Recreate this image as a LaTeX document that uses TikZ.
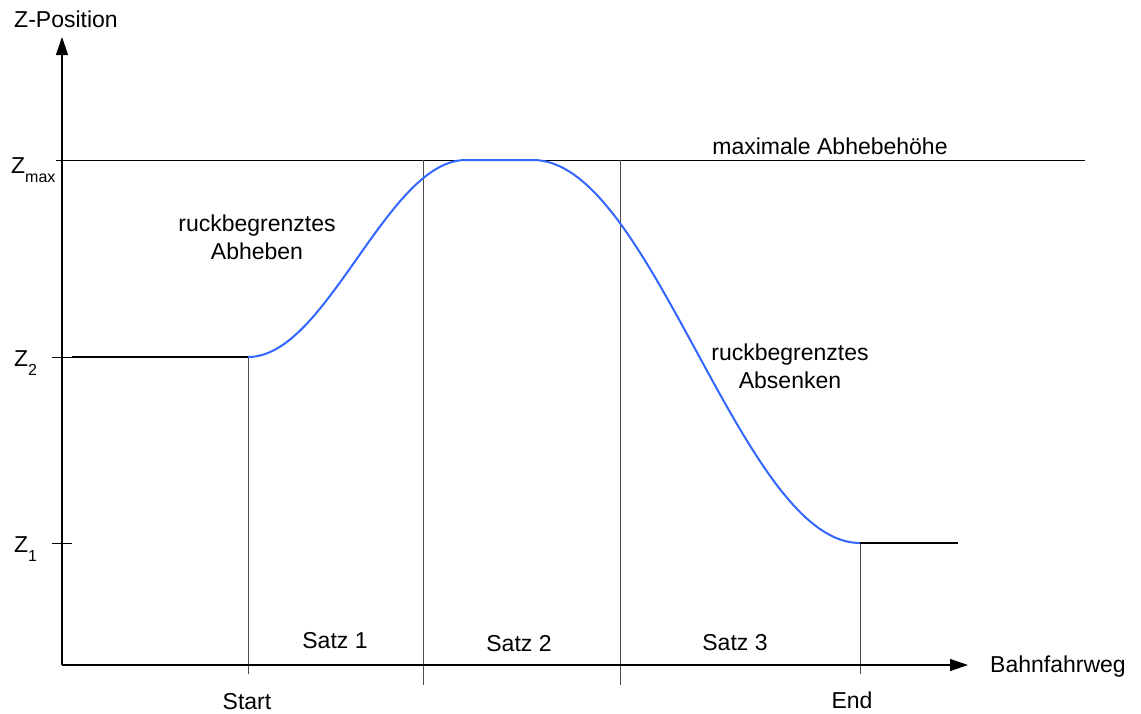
\documentclass[tikz,border=0pt]{standalone}
\usepackage{fontspec}
\setmainfont{Liberation Sans}
\usetikzlibrary{arrows.meta}
\definecolor{curveblue}{RGB}{51,102,255}
\newcommand{\zsub}[1]{\raisebox{-0.4em}{\fontsize{16}{16}\selectfont #1}}
\begin{document}
\begin{tikzpicture}[x=1pt,y=-1pt,
  font=\fontsize{23}{28}\selectfont,
  lbl/.style={inner sep=0pt},
  axisline/.style={line width=1.3pt,-{Triangle[length=18pt,width=12pt]}},
  gridline/.style={line width=1pt,draw=black!70},
  maxline/.style={line width=1pt,draw=black},
  tickline/.style={line width=1pt,draw=black},
  levelline/.style={line width=2.4pt,draw=black},
  motion/.style={line width=2pt,draw=curveblue}]
\useasboundingbox (0,0) rectangle (1141,713);
% key points
\coordinate (O) at (62,665);
\coordinate (ytop) at (62,37);
\coordinate (xend) at (968,665);
\coordinate (zmL) at (56,160);
\coordinate (zmR) at (1085,160);
\coordinate (z2L) at (52,357);
\coordinate (z2A) at (72,357);
\coordinate (z1L) at (52,543);
\coordinate (z1A) at (72,543);
\coordinate (startTop) at (248,357);
\coordinate (startBot) at (248,674);
\coordinate (b12Top) at (423,160);
\coordinate (b12Bot) at (423,685);
\coordinate (b23Top) at (620,160);
\coordinate (b23Bot) at (620,685);
\coordinate (endTop) at (860,543);
\coordinate (endBot) at (860,674);
\coordinate (z1R) at (958,543);
\coordinate (topA) at (466,160);
\coordinate (topB) at (533,160);
% grid and levels
\draw[maxline] (zmL) -- (zmR);
\draw[tickline] (z2L) -- (z2A);
\draw[tickline] (z1L) -- (z1A);
\draw[gridline] (startTop) -- (startBot);
\draw[gridline] (b12Top) -- (b12Bot);
\draw[gridline] (b23Top) -- (b23Bot);
\draw[gridline] (endTop) -- (endBot);
\draw[levelline] (z2A) -- (startTop);
\draw[levelline] (endTop) -- (z1R);
% axes
\draw[axisline] (O) -- (ytop);
\draw[axisline] (O) -- (xend);
% motion curve
\draw[motion] plot[domain=0:1,samples=80,variable=\t]
   ({248+218*\t},{357-197*(1-cos(180*\t))/2})
   -- (topB)
   -- plot[domain=0:1,samples=80,variable=\t]
   ({533+327*\t},{160+383*(1-cos(180*\t))/2});
% labels
\node[lbl,anchor=base west] (lz) at (14,27) {Z-Position};
\node[lbl,anchor=base west] (lzmax) at (11,173) {Z\zsub{max}};
\node[lbl,anchor=base west] (lz2) at (14,366) {Z\zsub{2}};
\node[lbl,anchor=base west] (lz1) at (14,552) {Z\zsub{1}};
\node[lbl,align=center] (lup) at (257,237) {ruckbegrenztes\\Abheben};
\node[lbl,align=center] (ldown) at (790,366) {ruckbegrenztes\\Absenken};
\node[lbl] (lmax) at (830,146) {maximale Abhebehöhe};
\node[lbl] (s1) at (335,641) {Satz 1};
\node[lbl] (s2) at (519,644) {Satz 2};
\node[lbl] (s3) at (735,643) {Satz 3};
\node[lbl] (lstart) at (247,702) {Start};
\node[lbl] (lend) at (852,700) {End};
\node[lbl] (lbahn) at (1058,667) {Bahnfahrweg};
\end{tikzpicture}
\end{document}
